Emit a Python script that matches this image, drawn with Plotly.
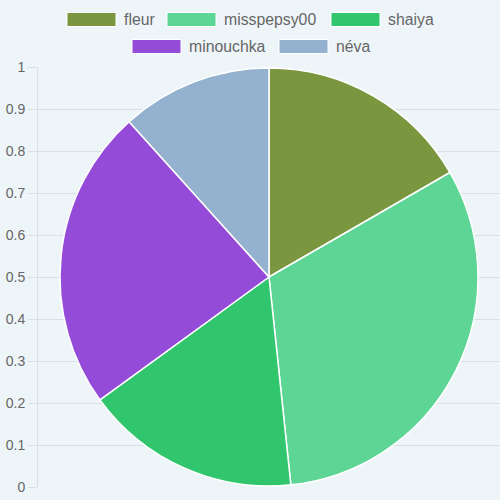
import plotly.graph_objects as go

categories = ["fleur", "misspepsy00", "shaiya", "minouchka", "néva"]
values = [10, 19, 10, 14, 7]
colors = ["#7a963e", "#5cd595", "#31c66d", "#944bd8", "#94b2d0"]
y_ticks = [0, 0.1, 0.2, 0.3, 0.4, 0.5, 0.6, 0.7, 0.8, 0.9, 1]
y_tick_text = ["0", "0.1", "0.2", "0.3", "0.4", "0.5", "0.6", "0.7", "0.8", "0.9", "1"]

W, H = 500, 500
L, R, T, B = 38, 0, 67, 13
PW, PH = W - L - R, H - T - B
BG = "#eef5f9"
GRID = "#d9e0e4"
TXT = "#666666"
FONT = "Liberation Sans, Arial, sans-serif"


def px(x):
    return (x - L) / PW


def py(y):
    return 1 - (y - T) / PH


fig = go.Figure()
fig.add_trace(go.Scatter(x=[None], y=[None], showlegend=False, hoverinfo="skip"))
fig.add_trace(go.Pie(
    labels=categories, values=values, sort=False, direction="clockwise", rotation=0,
    marker=dict(colors=colors, line=dict(color="white", width=1.5)),
    textinfo="none", showlegend=False,
    domain=dict(x=[0, 1], y=[1 / PH, 1 - 1 / PH]),
))

# legend (Chart.js style boxes)
legend_rows = [[0, 1, 2], [3, 4]]
box_x = {0: 67, 1: 167, 2: 331, 3: 132, 4: 279}
row_y = [19.5, 46.5]
shapes = []
annotations = []
for r, row in enumerate(legend_rows):
    yc = row_y[r]
    for i in row:
        x0 = box_x[i]
        shapes.append(dict(type="rect", xref="paper", yref="paper",
                           x0=px(x0), x1=px(x0 + 49), y0=py(yc + 7), y1=py(yc - 7),
                           fillcolor=colors[i], line=dict(color="white", width=1)))
        annotations.append(dict(xref="paper", yref="paper", x=px(x0 + 55), y=py(yc),
                                xanchor="left", yanchor="middle", showarrow=False,
                                text=categories[i], font=dict(family=FONT, size=15.8, color=TXT)))

fig.update_layout(
    width=W, height=H, margin=dict(l=L, r=R, t=T, b=B),
    paper_bgcolor=BG, plot_bgcolor=BG,
    showlegend=False,
    shapes=shapes, annotations=annotations,
    xaxis=dict(visible=False, range=[0, 1]),
    yaxis=dict(range=[0, 1], tickvals=y_ticks, ticktext=y_tick_text,
               showgrid=True, gridcolor=GRID, gridwidth=1, zeroline=False,
               showline=True, linecolor=GRID, linewidth=1,
               ticks="outside", ticklen=9, tickcolor=GRID,
               tickfont=dict(family=FONT, size=14, color=TXT), fixedrange=True),
    font=dict(family=FONT, color=TXT),
)
fig.write_html("out.html", config={"displayModeBar": False, "staticPlot": True},
               post_script="document.body.style.margin='0';document.body.style.background='%s';" % BG)
